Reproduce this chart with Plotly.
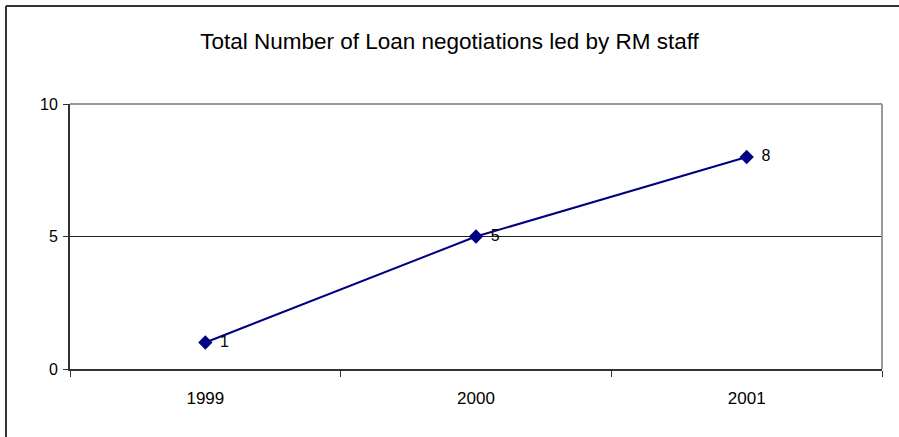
import plotly.graph_objects as go

# Loan negotiations led by RM staff, per year
years = ["1999", "2000", "2001"]
negotiations = [1, 5, 8]
y_ticks = [0, 5, 10]

W, H = 899, 437
L, R, T, B = 70, 17, 104, 68
plot_w = W - L - R
plot_h = H - T - B
FONT = "Liberation Sans, Arial"

fig = go.Figure()
fig.add_trace(go.Scatter(
    x=years, y=negotiations,
    mode="lines+markers",
    line=dict(color="#000080", width=2),
    marker=dict(symbol="diamond", size=11, color="#000080"),
    cliponaxis=False,
    showlegend=False,
))
# value labels beside each point (invisible wide marker sets the gap)
fig.add_trace(go.Scatter(
    x=years, y=negotiations,
    mode="markers+text",
    marker=dict(size=22, color="rgba(0,0,0,0)"),
    text=[str(v) for v in negotiations],
    textposition="middle right",
    textfont=dict(family=FONT, size=16, color="#000000"),
    cliponaxis=False,
    showlegend=False,
    hoverinfo="skip",
))

def px_x(p):
    return (p - L) / plot_w

def px_y(p):
    return (H - B - p) / plot_h

shapes = [
    # plot-area top and right edges
    dict(type="line", xref="paper", yref="paper", x0=0, x1=1, y0=1, y1=1,
         line=dict(color="#999999", width=2)),
    dict(type="line", xref="paper", yref="paper", x0=1, x1=1, y0=0, y1=1,
         line=dict(color="#999999", width=2)),
    # chart frame
    dict(type="line", xref="paper", yref="paper", x0=px_x(6), x1=px_x(6),
         y0=px_y(440), y1=px_y(6), line=dict(color="#333333", width=2)),
    dict(type="line", xref="paper", yref="paper", x0=px_x(6), x1=px_x(905),
         y0=px_y(6), y1=px_y(6), line=dict(color="#333333", width=2)),
]

fig.update_layout(
    width=W, height=H,
    margin=dict(l=L, r=R, t=T, b=B),
    paper_bgcolor="white", plot_bgcolor="white",
    font=dict(family=FONT, size=16, color="#000000"),
    title=dict(text="Total Number of Loan negotiations led by RM staff",
               x=0.5, xref="container", xanchor="center",
               y=1 - 41 / H, yref="container", yanchor="middle",
               font=dict(size=22.5, family=FONT)),
    shapes=shapes,
    xaxis=dict(
        type="category", range=[-0.5, 2.5],
        showline=True, linecolor="#333333", linewidth=2,
        ticks="outside", tickson="boundaries", ticklen=6,
        tickcolor="#333333", tickwidth=1,
        showgrid=False, zeroline=False,
        tickfont=dict(size=17), ticklabelstandoff=13,
    ),
    yaxis=dict(
        range=[0, 10], tickvals=y_ticks,
        showline=True, linecolor="#333333", linewidth=2,
        ticks="outside", ticklen=5, tickcolor="#333333",
        showgrid=True, gridcolor="#222222", gridwidth=1,
        zeroline=False, tickfont=dict(size=16), ticklabelstandoff=2,
    ),
)

fig.write_html("out.html")
